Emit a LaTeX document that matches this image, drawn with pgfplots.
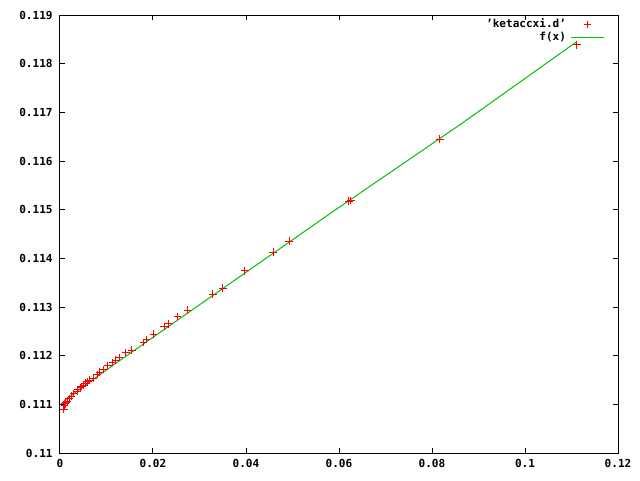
\documentclass[border=0pt]{standalone}
\usepackage{fontspec}
\setmainfont{DejaVu Sans Mono}
\usepackage{pgfplots}
\pgfplotsset{compat=1.18}
\definecolor{gpred}{RGB}{255,0,0}
\definecolor{gpgreen}{RGB}{0,192,0}
\begin{document}
\begin{tikzpicture}
\useasboundingbox (0pt,0pt) rectangle (480pt,360pt);
\begin{axis}[
  at={(45pt,20.25pt)}, anchor=south west,
  scale only axis, width=418.5pt, height=328.5pt,
  xmin=0, xmax=0.12, ymin=0.11, ymax=0.119,
  xtick={0,0.02,0.04,0.06,0.08,0.1,0.12},
  xticklabels={0,0.02,0.04,0.06,0.08,0.1,0.12},
  ytick={0.11,0.111,0.112,0.113,0.114,0.115,0.116,0.117,0.118,0.119},
  yticklabels={0.11,0.111,0.112,0.113,0.114,0.115,0.116,0.117,0.118,0.119},
  tick align=inside, tick pos=both, minor tick num=0,
  major tick length=3.75pt,
  axis line style={black, line width=0.75pt},
  every tick/.style={black, line width=0.75pt},
  tick label style={font=\fontsize{8.3pt}{9pt}\selectfont\bfseries},
  yticklabel style={xshift=-2pt},
  xticklabel style={yshift=-1pt},
  scaled ticks=false,
  /pgf/number format/assume math mode=true,
  legend style={draw=none, fill=none, at={(1,1)}, anchor=north east,
    font=\fontsize{8.3pt}{9pt}\selectfont\bfseries, row sep=-2pt,
    xshift=-7pt, yshift=1.5pt,
    nodes={inner xsep=3pt}},
  legend cell align=right,
  legend plot pos=right,
  clip=false,
]
\addplot[only marks, mark=+, color=gpred, mark size=2.7pt, mark options={line width=0.75pt},
  legend image code/.code={\draw[mark repeat=2,mark phase=2] plot coordinates {(0pt,0pt) (12.5pt,0pt) (25pt,0pt)};}] coordinates {
(0.00086,0.110904) (0.00097,0.110966) (0.00108,0.111007) (0.00129,0.111048)
(0.00151,0.111068) (0.00194,0.111120) (0.00247,0.111171) (0.00301,0.111223)
(0.00366,0.111274) (0.00387,0.111305) (0.00441,0.111336) (0.00473,0.111366)
(0.00516,0.111397) (0.00559,0.111438) (0.00602,0.111459) (0.00645,0.111500)
(0.00710,0.111541) (0.00806,0.111613) (0.00860,0.111664) (0.00946,0.111715)
(0.01032,0.111788) (0.01129,0.111860) (0.01204,0.111911) (0.01280,0.111962)
(0.01419,0.112065) (0.01548,0.112116) (0.01791,0.112266) (0.01856,0.112336)
(0.02015,0.112445) (0.02237,0.112595) (0.02344,0.112651) (0.02531,0.112801)
(0.02746,0.112938) (0.03290,0.113267) (0.03505,0.113390) (0.03978,0.113740)
(0.04581,0.114130) (0.04925,0.114356) (0.06215,0.115178) (0.06258,0.115188)
(0.08172,0.116452) (0.11118,0.118384)
};
\addlegendentry{'ketaccxi.d'}
\addplot[color=gpgreen, line width=0.75pt, mark=none,
  legend image code/.code={\draw (0pt,0pt) -- (25pt,0pt);}] coordinates {
(0.00086,0.111075) (0.002,0.111150) (0.005,0.111365) (0.009,0.111640)
(0.013,0.111910) (0.030,0.113045) (0.058,0.114915) (0.086,0.116745) (0.1111,0.118450)
};
\addlegendentry{f(x)}
\end{axis}
\end{tikzpicture}
\end{document}
